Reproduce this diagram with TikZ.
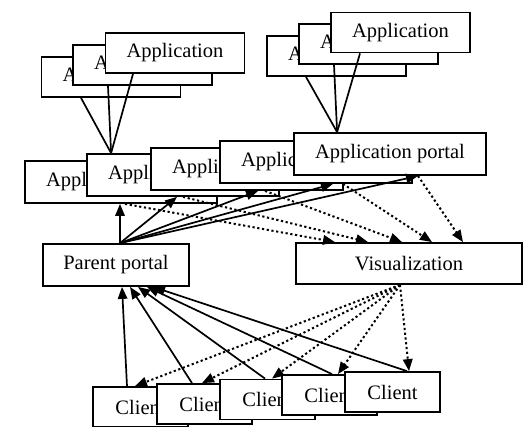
\documentclass[tikz,border=0pt]{standalone}
\usepackage{fontspec}
\setmainfont{Liberation Serif}
\usetikzlibrary{arrows.meta}
\begin{document}
\begin{tikzpicture}[x=1pt,y=-1pt,
		box/.style={draw,fill=white,line width=1.8pt,inner sep=0pt,font=\fontsize{20.5}{24}\selectfont},
		appbox/.style={box,minimum width=139pt,minimum height=40pt},
		portalbox/.style={box,minimum width=192pt,minimum height=42pt},
		clientbox/.style={box,minimum width=95pt,minimum height=40pt},
		link/.style={line width=1.7pt},
		flow/.style={link,-{Triangle[length=12pt,width=9.5pt]}},
		dotflow/.style={flow,line width=2pt,dash pattern=on 2.2pt off 2.6pt}]
			\path[use as bounding box,fill=white] (0,0) rectangle (527,427);
			\node[appbox] (a1) at (111,77) {Application};
			\node[appbox] (a2) at (142.5,65) {Application};
			\node[appbox] (a3) at (175,53) {Application};
			\node[appbox] (c1) at (336.5,56) {Application};
			\node[appbox] (c2) at (368.5,44) {Application};
			\node[appbox] (c3) at (400.5,32.5) {Application};
			\node[portalbox] (b1) at (121,182) {Application portal};
			\node[portalbox] (b2) at (183,175) {Application portal};
			\node[portalbox] (b3) at (247,169) {Application portal};
			\node[portalbox] (b4) at (316,162) {Application portal};
			\node[portalbox] (b5) at (390,154) {Application portal};
			\node[box,minimum width=146pt,minimum height=42pt] (parent) at (116,265) {Parent portal};
			\node[box,minimum width=226pt,minimum height=41pt] (vis) at (409,263.5) {Visualization};
			\node[clientbox] (k1) at (140.5,407) {Client};
			\node[clientbox] (k2) at (204.5,404) {Client};
			\node[clientbox] (k3) at (267.5,399.5) {Client};
			\node[clientbox] (k4) at (329.5,395) {Client};
			\node[clientbox] (k5) at (392.5,392) {Client};
			\coordinate (ja) at ([xshift=25pt]b2.north west);
			\coordinate (jc) at ([xshift=44pt]b5.north west);
			\draw[link] ([xshift=-30pt]a1.south) -- (ja);
			\draw[link] ([xshift=-34.5pt]a2.south) -- (ja);
			\draw[link] ([xshift=-42pt]a3.south) -- (ja);
			\draw[link] ([xshift=-30.5pt]c1.south) -- (jc);
			\draw[link] ([xshift=-34.5pt]c2.south) -- (jc);
			\draw[link] ([xshift=-40.5pt]c3.south) -- (jc);
			\draw[flow] ([xshift=4pt]parent.north) -- ([xshift=-1pt]b1.south);
			\draw[flow] ([xshift=4pt]parent.north) -- ([xshift=-6pt]b2.south);
			\draw[flow] ([xshift=4pt]parent.north) -- ([xshift=11pt]b3.south);
			\draw[flow] ([xshift=4pt]parent.north) -- ([xshift=17pt]b4.south);
			\draw[flow] ([xshift=4pt]parent.north) -- ([xshift=28pt]b5.south);
			\draw[dotflow] ([xshift=4pt]b1.south) -- ([xshift=-74pt]vis.north);
			\draw[dotflow] (b2.south) -- ([xshift=-41pt]vis.north);
			\draw[dotflow] ([xshift=18pt]b3.south) -- ([xshift=-7pt]vis.north);
			\draw[dotflow] ([xshift=27pt]b4.south) -- ([xshift=23pt]vis.north);
			\draw[dotflow] ([xshift=28pt]b5.south) -- ([xshift=54pt]vis.north);
			\draw[flow] ([xshift=-13.5pt]k1.north) -- ([xshift=6pt]parent.south);
			\draw[flow] ([xshift=-12.5pt]k2.north) -- ([xshift=14pt]parent.south);
			\draw[flow] ([xshift=-2.5pt]k3.north) -- ([xshift=22pt]parent.south);
			\draw[flow] ([xshift=2.5pt]k4.north) -- ([xshift=31pt]parent.south);
			\draw[flow] ([xshift=14.5pt]k5.north) -- ([xshift=37pt]parent.south);
			\draw[dotflow] ([xshift=-9pt]vis.south) -- ([xshift=-5.5pt]k1.north);
			\draw[dotflow] ([xshift=-9pt]vis.south) -- ([xshift=-2.5pt]k2.north);
			\draw[dotflow] ([xshift=-9pt]vis.south) -- ([xshift=4.5pt]k3.north);
			\draw[dotflow] ([xshift=-9pt]vis.south) -- ([xshift=8.5pt]k4.north);
			\draw[dotflow] ([xshift=-9pt]vis.south) -- ([xshift=16.5pt]k5.north);
\end{tikzpicture}
\end{document}
